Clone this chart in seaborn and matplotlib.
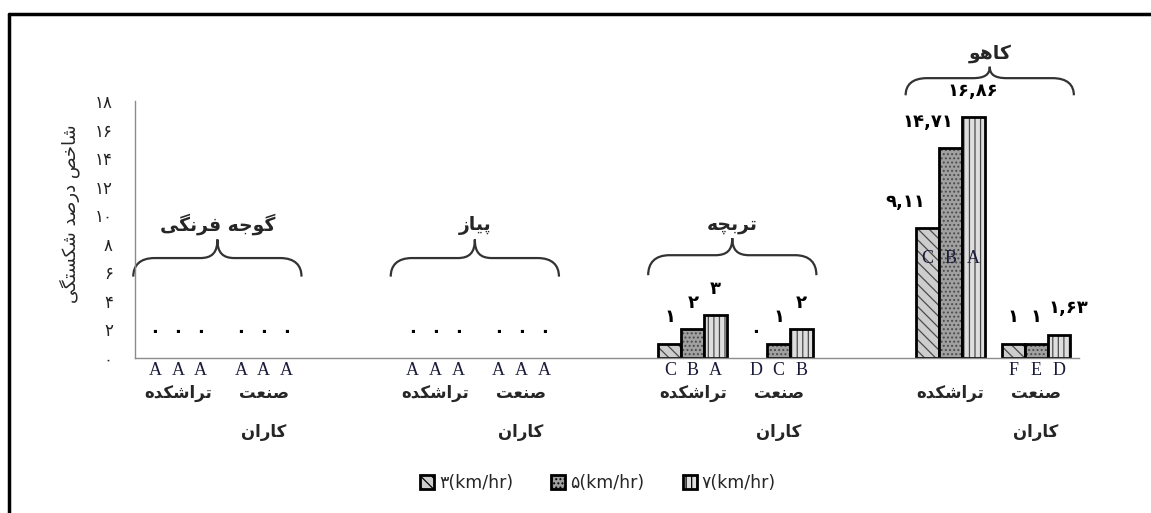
import matplotlib
matplotlib.use('Agg')
import matplotlib.pyplot as plt
import seaborn as sns
import pandas as pd
import numpy as np
from matplotlib.patches import Patch, PathPatch
from matplotlib.path import Path
from matplotlib.colors import to_rgba

products = ['گوجه فرنگی', 'پیاز', 'تربچه', 'کاهو']
machines = ['تراشکده', 'صنعت']
machine_sub = 'کاران'
speeds = ['۳(km/hr)', '۵(km/hr)', '۷(km/hr)']
ylabel = 'شاخص درصد شکستگی'

# one entry per product/machine: tomato-T, tomato-S, onion-T, onion-S, radish-T, radish-S, lettuce-T, lettuce-S
v3 = [0, 0, 0, 0, 1, 0, 9.11, 1]
v5 = [0, 0, 0, 0, 2, 1, 14.71, 1]
v7 = [0, 0, 0, 0, 3, 2, 16.86, 1.63]
let3 = ['A', 'A', 'A', 'A', 'C', 'D', 'C', 'F']
let5 = ['A', 'A', 'A', 'A', 'B', 'C', 'B', 'E']
let7 = ['A', 'A', 'A', 'A', 'A', 'B', 'A', 'D']
yticks = [0, 2, 4, 6, 8, 10, 12, 14, 16, 18]

# presentation forms (isolated, final, initial, medial) - matplotlib does no arabic shaping
FORMS = {
    'ا': ('\uFE8D', '\uFE8E'),
    'ب': ('\uFE8F', '\uFE90', '\uFE91', '\uFE92'),
    'پ': ('\uFB56', '\uFB57', '\uFB58', '\uFB59'),
    'ت': ('\uFE95', '\uFE96', '\uFE97', '\uFE98'),
    'ج': ('\uFE9D', '\uFE9E', '\uFE9F', '\uFEA0'),
    'چ': ('\uFB7A', '\uFB7B', '\uFB7C', '\uFB7D'),
    'خ': ('\uFEA5', '\uFEA6', '\uFEA7', '\uFEA8'),
    'د': ('\uFEA9', '\uFEAA'),
    'ر': ('\uFEAD', '\uFEAE'),
    'ز': ('\uFEAF', '\uFEB0'),
    'س': ('\uFEB1', '\uFEB2', '\uFEB3', '\uFEB4'),
    'ش': ('\uFEB5', '\uFEB6', '\uFEB7', '\uFEB8'),
    'ص': ('\uFEB9', '\uFEBA', '\uFEBB', '\uFEBC'),
    'ع': ('\uFEC9', '\uFECA', '\uFECB', '\uFECC'),
    'ف': ('\uFED1', '\uFED2', '\uFED3', '\uFED4'),
    'ک': ('\uFB8E', '\uFB8F', '\uFB90', '\uFB91'),
    'گ': ('\uFB92', '\uFB93', '\uFB94', '\uFB95'),
    'ن': ('\uFEE5', '\uFEE6', '\uFEE7', '\uFEE8'),
    'ه': ('\uFEE9', '\uFEEA', '\uFEEB', '\uFEEC'),
    'و': ('\uFEED', '\uFEEE'),
    'ی': ('\uFBFC', '\uFBFD', '\uFBFE', '\uFBFF'),
}


def fa(s):
    out = []
    for i, ch in enumerate(s):
        f = FORMS.get(ch)
        if f is None:
            out.append(ch)
            continue
        prev = s[i - 1] if i > 0 else ''
        nxt = s[i + 1] if i + 1 < len(s) else ''
        jp = prev in FORMS and len(FORMS[prev]) == 4
        jn = len(f) == 4 and nxt in FORMS
        if jp and jn:
            out.append(f[3])
        elif jp:
            out.append(f[1])
        elif jn:
            out.append(f[2])
        else:
            out.append(f[0])
    return ''.join(out[::-1])


def fa_num(v):
    s = f'{v:g}'.replace('.', ',')
    return s.translate(str.maketrans('0123456789', '۰۱۲۳۴۵۶۷۸۹'))


slots = [p + '|' + m for p in products for m in machines]
order = []
for i, p in enumerate(products):
    if i:
        order.append(' ' * i)
    order += [p + '|' + m for m in machines]

df = pd.DataFrame({
    'slot': slots * 3,
    'speed': [speeds[0]] * 8 + [speeds[1]] * 8 + [speeds[2]] * 8,
    'value': v3 + v5 + v7,
})

fills = ['#cdcdcd', '#a0a0a0', '#dedede']
hatches = ['\\\\\\', '....', '|||']

sns.set_theme(style='white')
plt.rcParams['font.family'] = ['DejaVu Sans']
plt.rcParams['hatch.linewidth'] = 0.9

fig = plt.figure(figsize=(11.51, 5.13), dpi=100)
ax = fig.add_axes([135 / 1151, 1 - 358 / 513, 944 / 1151, 257 / 513])

sns.barplot(data=df, x='slot', y='value', hue='speed', order=order, hue_order=speeds,
            palette=fills, edgecolor='black', linewidth=2, saturation=1,
            errorbar=None, legend=False, ax=ax)

ax.set_xlim(-0.5, len(order) - 0.5)
ax.set_ylim(0, 18)
ax.set_xlabel('')
ax.set_ylabel('')
ax.set_yticks(yticks)
ax.set_yticklabels([fa_num(t) for t in yticks], fontsize=12, color='#222')
ax.tick_params(axis='y', length=0, pad=16)
ax.tick_params(axis='x', length=0, labelbottom=False)
for s in ['top', 'right']:
    ax.spines[s].set_visible(False)
for s in ['left', 'bottom']:
    ax.spines[s].set_color('#8c8c8c')
    ax.spines[s].set_linewidth(1)

hc = to_rgba('#4a4a4a')
letters = [let3, let5, let7]
vals = [v3, v5, v7]
nudges = {(0, 6): -16, (1, 6): -16, (2, 7): 7}
centers = np.zeros((3, 8))
for k, cont in enumerate(ax.containers):
    for j, bar in enumerate(cont):
        bar.set_hatch(hatches[k])
        if hasattr(bar, 'set_hatchcolor'):
            bar.set_hatchcolor(hc)
        else:
            bar._hatch_color = hc
        h = bar.get_height()
        x = bar.get_x() + bar.get_width() / 2
        centers[k, j] = x
        if h == 0:
            bar.set_visible(False)
        ax.annotate(fa_num(vals[k][j]), xy=(x, h), xytext=(nudges.get((k, j), 0), 19),
                    textcoords='offset points', ha='center', va='center',
                    fontsize=13, fontweight='bold', color='black')
        if h > 5:
            ax.text(x, 7.0, letters[k][j], ha='center', va='center',
                    family='Liberation Serif', fontsize=13, color='#1a1a3a')
        else:
            ax.annotate(letters[k][j], xy=(x, 0), xytext=(0, -9), textcoords='offset points',
                        ha='center', va='center', family='Liberation Serif',
                        fontsize=13, color='#1a1a3a')

cluster = centers.mean(axis=0)
for j in range(8):
    ax.annotate(fa(machines[j % 2]), xy=(cluster[j], 0), xytext=(0, -25),
                textcoords='offset points', ha='center', va='center',
                fontsize=12, fontweight='bold')
    if j % 2:
        ax.annotate(fa(machine_sub), xy=(cluster[j], 0), xytext=(0, -53),
                    textcoords='offset points', ha='center', va='center',
                    fontsize=12, fontweight='bold')

# braces over each product
brace_y = [(5.7, 7.0, 8.3), (5.7, 7.0, 8.3), (5.8, 7.2, 8.4), (18.4, 19.6, 20.4)]


def brace(xl, xr, yb, yh, yt):
    xc = (xl + xr) / 2
    rx, tx = 0.25, 0.2
    verts = [(xl, yb),
             (xl, yb + (yh - yb) * 0.6), (xl + rx * 0.3, yh), (xl + rx, yh),
             (xc - tx, yh),
             (xc - tx * 0.3, yh), (xc, yh + (yt - yh) * 0.3), (xc, yt),
             (xc, yh + (yt - yh) * 0.3), (xc + tx * 0.3, yh), (xc + tx, yh),
             (xr - rx, yh),
             (xr - rx * 0.3, yh), (xr, yb + (yh - yb) * 0.6), (xr, yb)]
    codes = ([Path.MOVETO] + [Path.CURVE4] * 3 + [Path.LINETO] + [Path.CURVE4] * 6
             + [Path.LINETO] + [Path.CURVE4] * 3)
    ax.add_patch(PathPatch(Path(verts, codes), fill=False, lw=1.6, color='#333333',
                           clip_on=False))


for i, p in enumerate(products):
    xc = cluster[2 * i: 2 * i + 2].mean() - 0.04
    yb, yh, yt = brace_y[i]
    brace(xc - 0.98, xc + 0.98, yb, yh, yt)
    ax.annotate(fa(p), xy=(xc, yt), xytext=(0, 3), textcoords='offset points',
                ha='center', va='bottom', fontsize=13.5, fontweight='bold',
                annotation_clip=False)

fig.text(70 / 1151, 1 - 214 / 513, fa(ylabel), rotation=90, ha='center', va='center',
         fontsize=13)

handles = [Patch(facecolor=fills[k], edgecolor='black', hatch=hatches[k], lw=2)
           for k in range(3)]
fig.legend(handles, speeds, loc='center', bbox_to_anchor=(598 / 1151, 1 - 483 / 513),
           ncol=3, frameon=False, handlelength=0.8, handleheight=0.8,
           handletextpad=0.3, columnspacing=2.2, fontsize=12.5)

# outer frame (left and top)
fig.add_artist(plt.Line2D([9 / 1151, 9 / 1151], [0, 1 - 14 / 513], color='black', lw=2.5))
fig.add_artist(plt.Line2D([9 / 1151, 1], [1 - 14 / 513, 1 - 14 / 513], color='black', lw=2.5))

fig.savefig('out.png', dpi=100)
